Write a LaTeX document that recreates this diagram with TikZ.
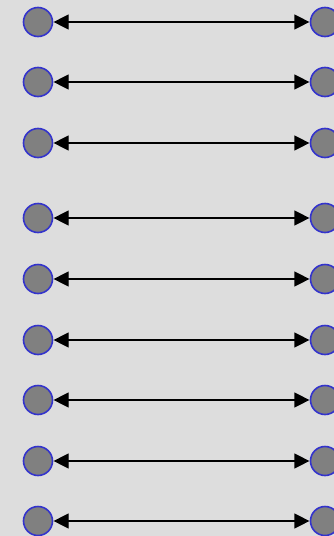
\documentclass[tikz,border=0pt]{standalone}
\usetikzlibrary{arrows.meta}
\definecolor{rim}{RGB}{51,51,204}
\definecolor{bg}{RGB}{221,221,221}
\begin{document}
\begin{tikzpicture}[x=1pt,y=-1pt,
  dot/.style={circle,draw=rim,fill=gray,line width=1.6pt,minimum size=29pt,inner sep=0pt},
  link/.style={line width=1.2pt,{Triangle[length=15pt,width=15pt]}-{Triangle[length=15pt,width=15pt]},shorten <=0.3pt,shorten >=0.3pt}]
\fill[bg] (0,0) rectangle (334,536);
\useasboundingbox (0,0) rectangle (334,536);
\foreach \y [count=\i] in {22,82,143,218,279,340,400,461,521} {
  \node[dot] (l\i) at (38,\y) {};
  \node[dot] (r\i) at (325,\y) {};
  \draw[link] (l\i) -- (r\i);
}
\end{tikzpicture}
\end{document}
